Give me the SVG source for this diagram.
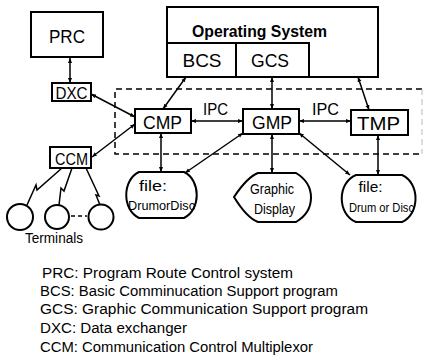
<svg xmlns="http://www.w3.org/2000/svg" width="424" height="364" viewBox="0 0 424 364">
<defs>
<marker id="ah" viewBox="0 0 10 10" refX="10" refY="5" markerWidth="5" markerHeight="5" orient="auto-start-reverse" markerUnits="userSpaceOnUse">
<path d="M0 1 L10 5 L0 9 Z" fill="#000"/>
</marker>
</defs>
<style>
.box{fill:#fff;stroke:#000;stroke-width:2}
.ln{fill:none;stroke:#000;stroke-width:1.5}
.ar{fill:none;stroke:#000;stroke-width:1.5;marker-start:url(#ah);marker-end:url(#ah)}
.t{font-family:"Liberation Sans",Arial,sans-serif;fill:#000;text-anchor:middle}
.lg{font-family:"Liberation Sans",Arial,sans-serif;fill:#000;font-size:14px}
</style>
<rect width="424" height="364" fill="#fff"/>
<g id="dashed-region">
<path d="M422 89 H115 V154 H422" fill="none" stroke="#000" stroke-width="1.5" stroke-dasharray="6 4"/>
<path d="M422 89 V154" fill="none" stroke="#bbb" stroke-width="1" stroke-dasharray="6 4"/>
</g>
<g id="connectors">
<line class="ar" x1="70" y1="58" x2="70" y2="83"/>
<line class="ar" x1="91" y1="94" x2="135" y2="117"/>
<line class="ar" x1="186" y1="77" x2="163" y2="109"/>
<line class="ar" x1="272" y1="77" x2="272" y2="109"/>
<line class="ar" x1="358" y1="77" x2="369" y2="110"/>
<line class="ar" x1="191" y1="121" x2="243" y2="121"/>
<line class="ar" x1="299" y1="121" x2="351" y2="121"/>
<line class="ar" x1="92" y1="157" x2="135" y2="124"/>
<line class="ar" x1="161" y1="133" x2="161" y2="172"/>
<line class="ar" x1="243" y1="133" x2="185" y2="173"/>
<line class="ar" x1="272" y1="134" x2="272" y2="173"/>
<line class="ar" x1="299" y1="133" x2="350" y2="175"/>
<line class="ar" x1="378" y1="135" x2="378" y2="175"/>
<path class="ln" d="M62 168 L37 190 L36 185 L27 205"/>
<path class="ln" d="M72 168 L64 191 L61 188 L59 205"/>
<path class="ln" d="M86 168 L99 196 L96 195 L100 205"/>
<line x1="71" y1="216" x2="87" y2="216" stroke="#000" stroke-width="1.5" stroke-dasharray="4 3"/>
</g>
<g id="PRC">
<rect class="box" x="31" y="12" width="72" height="45" stroke-width="2.5"/>
<text class="t" x="67" y="43" font-size="19" textLength="36" lengthAdjust="spacingAndGlyphs">PRC</text>
</g>
<g id="DXC">
<rect class="box" x="52" y="83" width="39" height="18" stroke-width="1.5"/>
<text class="t" x="71.5" y="99" font-size="16" textLength="32" lengthAdjust="spacingAndGlyphs">DXC</text>
</g>
<g id="OS">
<rect class="box" x="167" y="7" width="211" height="70" stroke-width="2.2"/>
<path d="M167 43 H309 V77 M236 43 V77" fill="none" stroke="#000" stroke-width="2"/>
<text class="t" x="259.5" y="37" font-size="17" font-weight="bold" textLength="135" lengthAdjust="spacingAndGlyphs">Operating System</text>
</g>
<g id="BCS">
<text class="t" x="202" y="67" font-size="18" textLength="39" lengthAdjust="spacingAndGlyphs">BCS</text>
</g>
<g id="GCS">
<text class="t" x="270" y="67" font-size="18" textLength="38" lengthAdjust="spacingAndGlyphs">GCS</text>
</g>
<g id="CMP">
<rect class="box" x="135" y="109" width="56" height="24"/>
<text class="t" x="162.5" y="129" font-size="19" textLength="39" lengthAdjust="spacingAndGlyphs">CMP</text>
</g>
<g id="GMP">
<rect class="box" x="243" y="109" width="56" height="25"/>
<text class="t" x="272" y="129" font-size="19" textLength="40" lengthAdjust="spacingAndGlyphs">GMP</text>
</g>
<g id="TMP">
<rect class="box" x="351" y="110" width="57" height="25"/>
<text class="t" x="378.5" y="130" font-size="19" textLength="43" lengthAdjust="spacingAndGlyphs">TMP</text>
</g>
<g id="IPC-labels">
<text class="t" x="215.5" y="115" font-size="16" textLength="25" lengthAdjust="spacingAndGlyphs">IPC</text>
<text class="t" x="325.5" y="115" font-size="16" textLength="27" lengthAdjust="spacingAndGlyphs">IPC</text>
</g>
<g id="CCM">
<rect class="box" x="50" y="147" width="41" height="21" stroke-width="1.8"/>
<text class="t" x="71.5" y="165" font-size="16" textLength="33" lengthAdjust="spacingAndGlyphs">CCM</text>
</g>
<g id="file1">
<path class="box" stroke-width="1.8" d="M139 172 H184 C201 180 201 210 184 218 H139 C122 210 122 180 139 172 Z"/>
<text class="t" x="153" y="191" font-size="14" textLength="28" lengthAdjust="spacingAndGlyphs">file:</text>
<text class="t" x="161.5" y="210" font-size="13" textLength="67" lengthAdjust="spacingAndGlyphs">DrumorDisc</text>
</g>
<g id="graphic-display">
<path class="box" stroke-width="1.8" d="M234 197 C242 185 250 176 258 173 H296 C316 185 316 210 296 222 H258 C250 219 242 210 234 197 Z"/>
<text class="t" x="272" y="194" font-size="14" textLength="44" lengthAdjust="spacingAndGlyphs">Graphic</text>
<text class="t" x="274.5" y="214" font-size="14" textLength="41" lengthAdjust="spacingAndGlyphs">Display</text>
</g>
<g id="file2">
<path class="box" stroke-width="1.8" d="M356 175 H402 C420 183 420 214 402 222 H356 C337 214 337 183 356 175 Z"/>
<text class="t" x="370.5" y="192" font-size="14" textLength="24" lengthAdjust="spacingAndGlyphs">file:</text>
<text class="t" x="381.5" y="212" font-size="13" textLength="65" lengthAdjust="spacingAndGlyphs">Drum or Disc</text>
</g>
<g id="terminals">
<circle class="box" cx="20" cy="217" r="13" stroke-width="1.5"/>
<circle class="box" cx="57" cy="217" r="12" stroke-width="1.5"/>
<circle class="box" cx="101" cy="217" r="12.5" stroke-width="1.5"/>
<text class="t" x="54" y="243" font-size="14" textLength="58" lengthAdjust="spacingAndGlyphs">Terminals</text>
</g>
<g id="legend">
<text class="lg" x="42" y="278" textLength="251" lengthAdjust="spacingAndGlyphs">PRC: Program Route Control system</text>
<text class="lg" x="40" y="296" textLength="298" lengthAdjust="spacingAndGlyphs">BCS: Basic Comminucation Support program</text>
<text class="lg" x="40" y="314" textLength="328" lengthAdjust="spacingAndGlyphs">GCS: Graphic Communication Support program</text>
<text class="lg" x="40" y="333" textLength="147" lengthAdjust="spacingAndGlyphs">DXC: Data exchanger</text>
<text class="lg" x="40" y="352" textLength="273" lengthAdjust="spacingAndGlyphs">CCM: Communication Control Multiplexor</text>
</g>
</svg>
